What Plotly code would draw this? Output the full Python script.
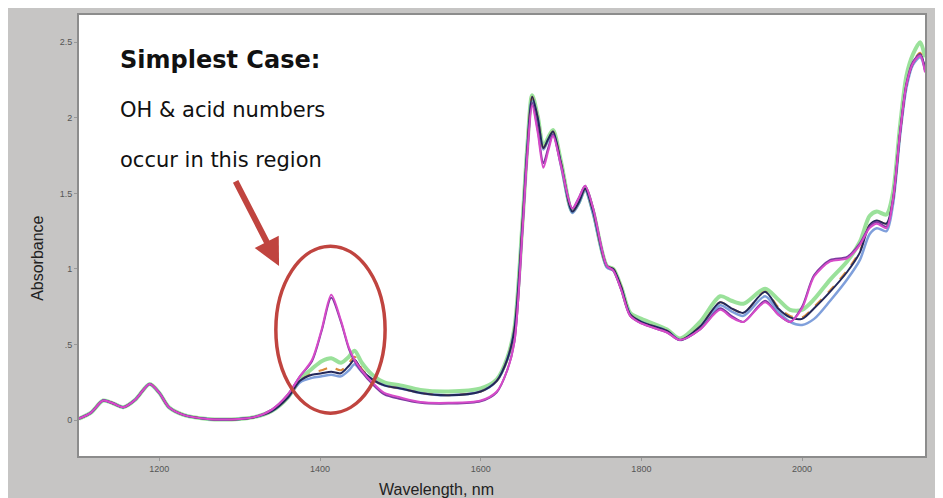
import plotly.graph_objects as go

# wavelength grid, nm
wavelength = [1100, 1115, 1130, 1143, 1155, 1170, 1188, 1200, 1212, 1230,
              1260, 1290, 1318, 1340, 1360, 1375, 1390, 1402, 1414, 1426,
              1436, 1443, 1452, 1465, 1480, 1500, 1525, 1560, 1600, 1620,
              1633, 1642, 1652, 1658, 1664, 1671, 1678, 1684, 1690, 1700,
              1714, 1722, 1730, 1740, 1757, 1765, 1775, 1786, 1800, 1832,
              1848, 1873, 1898, 1912, 1927, 1954, 1970, 1985, 2000, 2015,
              2035, 2056, 2072, 2084, 2093, 2105, 2113, 2122, 2130, 2138,
              2147, 2153]

green = [0.01, 0.05, 0.13, 0.11, 0.085, 0.135, 0.24, 0.18, 0.085, 0.035,
         0.008, 0.005, 0.02, 0.06, 0.15, 0.27, 0.34, 0.39, 0.41, 0.38,
         0.42, 0.46, 0.38, 0.30, 0.25, 0.23, 0.20, 0.19, 0.21, 0.27,
         0.41, 0.61, 1.31, 1.81, 2.15, 2.01, 1.81, 1.87, 1.92, 1.71,
         1.38, 1.44, 1.53, 1.38, 1.02, 1.00, 0.88, 0.71, 0.67, 0.60,
         0.54, 0.65, 0.82, 0.79, 0.77, 0.87, 0.80, 0.73, 0.73, 0.80,
         0.93, 1.05, 1.18, 1.35, 1.38, 1.36, 1.50, 1.95, 2.28, 2.42,
         2.50, 2.40]

blue = [0.01, 0.05, 0.13, 0.11, 0.085, 0.135, 0.24, 0.18, 0.085, 0.035,
        0.008, 0.005, 0.02, 0.06, 0.15, 0.25, 0.28, 0.29, 0.30, 0.29,
        0.33, 0.37, 0.32, 0.27, 0.23, 0.21, 0.18, 0.165, 0.19, 0.26,
        0.40, 0.60, 1.30, 1.80, 2.13, 1.99, 1.79, 1.85, 1.90, 1.68,
        1.37, 1.43, 1.52, 1.36, 1.01, 0.99, 0.87, 0.70, 0.65, 0.59,
        0.53, 0.61, 0.76, 0.72, 0.69, 0.82, 0.72, 0.65, 0.63, 0.67,
        0.79, 0.93, 1.06, 1.23, 1.27, 1.25, 1.42, 1.88, 2.20, 2.35,
        2.40, 2.32]

orange = [0.01, 0.05, 0.13, 0.11, 0.085, 0.135, 0.24, 0.18, 0.085, 0.035,
          0.008, 0.005, 0.02, 0.06, 0.15, 0.26, 0.31, 0.33, 0.35, 0.33,
          0.38, 0.42, 0.34, 0.27, 0.23, 0.21, 0.18, 0.165, 0.19, 0.26,
          0.40, 0.60, 1.30, 1.80, 2.14, 2.00, 1.80, 1.86, 1.91, 1.70,
          1.38, 1.44, 1.53, 1.38, 1.02, 1.00, 0.88, 0.70, 0.65, 0.59,
          0.53, 0.62, 0.78, 0.74, 0.71, 0.85, 0.75, 0.69, 0.68, 0.75,
          0.86, 0.99, 1.12, 1.29, 1.32, 1.30, 1.45, 1.90, 2.22, 2.37,
          2.43, 2.34]

navy = [0.01, 0.05, 0.13, 0.11, 0.085, 0.135, 0.24, 0.18, 0.085, 0.035,
        0.008, 0.005, 0.02, 0.06, 0.15, 0.26, 0.30, 0.31, 0.32, 0.31,
        0.36, 0.40, 0.33, 0.27, 0.23, 0.21, 0.18, 0.165, 0.19, 0.26,
        0.40, 0.60, 1.30, 1.80, 2.14, 2.00, 1.80, 1.86, 1.91, 1.70,
        1.38, 1.44, 1.53, 1.38, 1.02, 1.00, 0.88, 0.70, 0.65, 0.59,
        0.53, 0.62, 0.78, 0.74, 0.71, 0.85, 0.74, 0.68, 0.67, 0.74,
        0.85, 0.98, 1.11, 1.29, 1.32, 1.30, 1.45, 1.90, 2.22, 2.36,
        2.42, 2.33]

purple = [0.01, 0.05, 0.13, 0.11, 0.085, 0.135, 0.24, 0.18, 0.085, 0.035,
          0.008, 0.005, 0.02, 0.07, 0.17, 0.29, 0.39, 0.59, 0.81, 0.65,
          0.47, 0.39, 0.32, 0.24, 0.17, 0.14, 0.115, 0.11, 0.125, 0.185,
          0.33, 0.52, 1.26, 1.77, 2.10, 1.92, 1.70, 1.80, 1.89, 1.69,
          1.40, 1.47, 1.55, 1.40, 1.02, 0.99, 0.86, 0.69, 0.64, 0.58,
          0.53, 0.60, 0.74, 0.69, 0.65, 0.79, 0.70, 0.65, 0.75, 0.96,
          1.06, 1.08, 1.17, 1.28, 1.31, 1.28, 1.46, 1.91, 2.23, 2.37,
          2.42, 2.31]

magenta = [0.01, 0.05, 0.13, 0.11, 0.085, 0.135, 0.24, 0.18, 0.085, 0.035,
           0.008, 0.005, 0.02, 0.07, 0.17, 0.29, 0.40, 0.60, 0.83, 0.66,
           0.48, 0.40, 0.33, 0.25, 0.18, 0.15, 0.12, 0.115, 0.13, 0.19,
           0.33, 0.52, 1.25, 1.75, 2.08, 1.90, 1.67, 1.78, 1.88, 1.68,
           1.40, 1.47, 1.55, 1.40, 1.02, 0.99, 0.86, 0.69, 0.64, 0.58,
           0.53, 0.60, 0.73, 0.68, 0.65, 0.78, 0.70, 0.65, 0.74, 0.95,
           1.05, 1.07, 1.16, 1.27, 1.30, 1.27, 1.45, 1.90, 2.22, 2.36,
           2.41, 2.30]

y_tickvals = [0, 0.5, 1, 1.5, 2, 2.5]
y_ticktext = ["0", ".5", "1", "1.5", "2", "2.5"]
x_tickvals = [1200, 1400, 1600, 1800, 2000]

series = [
    (green, "rgba(120,215,120,0.75)", 4, "solid"),
    (blue, "rgba(95,135,210,0.8)", 2.5, "solid"),
    (orange, "#d98a3c", 2, "dash"),
    (navy, "#23285a", 2, "solid"),
    (purple, "#7d3aa0", 2, "solid"),
    (magenta, "#d64bc8", 2, "solid"),
]

fig = go.Figure()
for vals, color, w, dash in series:
    fig.add_trace(go.Scatter(x=wavelength, y=vals, mode="lines",
                             line=dict(color=color, width=w, dash=dash, shape="spline", smoothing=0.8),
                             showlegend=False))

red = "#c0443f"
font = "Arial, Liberation Sans, sans-serif"
note_font = "DejaVu Sans, sans-serif"

# circle round the OH region
fig.add_shape(type="circle", xref="x", yref="y", x0=1345, x1=1481, y0=0.046, y1=1.151,
              line=dict(color=red, width=3.5))

# arrow pointing to it
fig.add_annotation(x=1349, y=1.02, ax=1294, ay=1.59, xref="x", yref="y", axref="x", ayref="y",
                   text="", showarrow=True, arrowhead=2, arrowsize=0.9, arrowwidth=6, arrowcolor=red)

fig.add_annotation(x=1149, y=2.38, xref="x", yref="y", text="<b>Simplest Case:</b>", showarrow=False,
                   xanchor="left", yanchor="middle", font=dict(family=note_font, size=24, color="#111"))
fig.add_annotation(x=1149, y=2.05, xref="x", yref="y", text="OH &amp; acid numbers", showarrow=False,
                   xanchor="left", yanchor="middle", font=dict(family=note_font, size=21, color="#111"))
fig.add_annotation(x=1149, y=1.72, xref="x", yref="y", text="occur in this region", showarrow=False,
                   xanchor="left", yanchor="middle", font=dict(family=note_font, size=21, color="#111"))

# axis titles placed like the original
fig.add_annotation(x=(436 - 79) / 846, y=-0.077, xref="paper", yref="paper", text="Wavelength, nm",
                   showarrow=False, xanchor="center", yanchor="middle",
                   font=dict(family=font, size=16, color="#222"))
fig.add_annotation(x=-0.0485, y=(456 - 257) / 443, xref="paper", yref="paper", text="Absorbance",
                   textangle=-90, showarrow=False, xanchor="center", yanchor="middle",
                   font=dict(family=font, size=16, color="#222"))

fig.update_layout(
    width=935, height=490,
    margin=dict(l=71, r=18, t=5, b=42),
    paper_bgcolor="#c6c5c4",
    plot_bgcolor="white",
    font=dict(family=font, color="#555"),
    xaxis=dict(range=[1100, 2153], tickvals=x_tickvals, tickfont=dict(size=9, color="#555"),
               ticks="outside", ticklen=3, tickcolor="#999", showgrid=False, zeroline=False,
               showline=True, linecolor="#8c8c8c", linewidth=2, mirror=True),
    yaxis=dict(range=[-0.237, 2.68], tickvals=y_tickvals, ticktext=y_ticktext,
               tickfont=dict(size=9, color="#555"), ticks="outside", ticklen=3, tickcolor="#999",
               showgrid=False, zeroline=False, showline=True, linecolor="#8c8c8c", linewidth=2, mirror=True),
)

fig.write_html("out.html")
